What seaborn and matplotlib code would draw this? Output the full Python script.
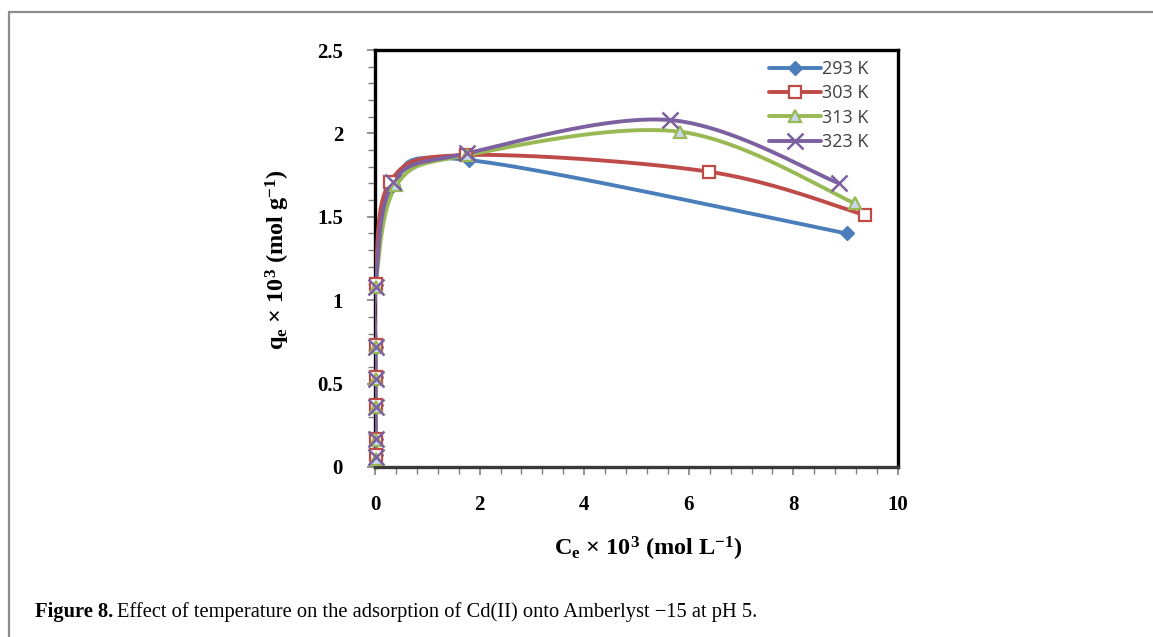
import numpy as np
import matplotlib
matplotlib.use("Agg")
import matplotlib.pyplot as plt
from matplotlib.lines import Line2D
from matplotlib.patches import Rectangle
from matplotlib.ticker import MultipleLocator
import seaborn as sns

# Equilibrium data: Ce x 10^3 (mol/L) and qe x 10^3 (mol/g) at each temperature
temps = ["293 K", "303 K", "313 K", "323 K"]
ce_293 = [0.01, 0.01, 0.01, 0.01, 0.01, 0.01, 0.35, 1.80, 9.02]
qe_293 = [0.07, 0.17, 0.37, 0.54, 0.72, 1.09, 1.69, 1.84, 1.40]
ce_303 = [0.01, 0.01, 0.01, 0.01, 0.01, 0.01, 0.29, 1.74, 6.39, 9.37]
qe_303 = [0.07, 0.17, 0.37, 0.54, 0.73, 1.10, 1.71, 1.87, 1.77, 1.51]
ce_313 = [0.01, 0.01, 0.01, 0.01, 0.01, 0.01, 0.41, 1.76, 5.83, 9.18]
qe_313 = [0.05, 0.16, 0.36, 0.53, 0.72, 1.08, 1.69, 1.87, 2.01, 1.58]
ce_323 = [0.01, 0.01, 0.01, 0.01, 0.01, 0.01, 0.35, 1.75, 5.64, 8.88]
qe_323 = [0.06, 0.17, 0.36, 0.53, 0.72, 1.08, 1.71, 1.88, 2.08, 1.70]

series = [(ce_293, qe_293), (ce_303, qe_303), (ce_313, qe_313), (ce_323, qe_323)]
colors = ["#4A7EBB", "#BE4B48", "#98B954", "#7D60A0"]
markers = ["D", "s", "^", "x"]
faces = ["#4A7EBB", "white", "#C9D8EE", "none"]
msizes = [7, 9, 9, 11]

sns.set_theme(style="white")
plt.rcParams["font.family"] = ["Liberation Serif", "DejaVu Serif"]
plt.rcParams["mathtext.fontset"] = "custom"
plt.rcParams["mathtext.rm"] = "Liberation Serif"
plt.rcParams["mathtext.bf"] = "Liberation Serif:bold"
plt.rcParams["mathtext.it"] = "Liberation Serif:italic"


def smooth(x, y, sx, sy, n=40):
    """Catmull-Rom style Bezier smoothing, computed in screen proportions."""
    p = np.column_stack([np.asarray(x) * sx, np.asarray(y) * sy])
    pts = []
    for i in range(len(p) - 1):
        p0 = p[i - 1] if i > 0 else p[i]
        p1 = p[i]
        p2 = p[i + 1]
        p3 = p[i + 2] if i + 2 < len(p) else p[i + 1]
        c1 = p1 + (p2 - p0) / 6.0
        c2 = p2 - (p3 - p1) / 6.0
        t = np.linspace(0, 1, n)[:, None]
        seg = ((1 - t) ** 3) * p1 + 3 * ((1 - t) ** 2) * t * c1 + 3 * (1 - t) * t ** 2 * c2 + t ** 3 * p2
        pts.append(seg if i == 0 else seg[1:])
    pts = np.vstack(pts)
    return pts[:, 0] / sx, pts[:, 1] / sy


fig = plt.figure(figsize=(11.53, 6.37), dpi=100)
fig.patch.set_facecolor("white")

# panel frame
fig.patches.append(Rectangle((9 / 1153, -0.05), 1.2, 1 - 12 / 637 + 0.05,
                             transform=fig.transFigure, fill=False,
                             edgecolor="#8C8C8C", linewidth=1.6, zorder=0))

ax = fig.add_axes([375 / 1153, 1 - 467 / 637, 523 / 1153, 417 / 637])
ax.set_facecolor("white")

sx, sy = 523 / 10.0, 417 / 2.5
handles = []
for (x, y), lab, c, m, fc, ms in zip(series, temps, colors, markers, faces, msizes):
    xs, ys = smooth(x, y, sx, sy)
    sns.lineplot(x=xs, y=ys, sort=False, estimator=None, color=c,
                 linewidth=2.8, ax=ax, zorder=3)
    mew = 1.6 if m in ("s", "^") else (1.8 if m == "x" else 1.0)
    ax.plot(x, y, linestyle="none", marker=m, markersize=ms,
            markerfacecolor=fc, markeredgecolor=c, markeredgewidth=mew,
            zorder=4, clip_on=False)
    handles.append(Line2D([0], [0], color=c, linewidth=2.8, marker=m,
                          markersize=ms, markerfacecolor=fc,
                          markeredgecolor=c, markeredgewidth=mew, label=lab))

ax.set_xlim(0, 10)
ax.set_ylim(0, 2.5)
ax.xaxis.set_minor_locator(MultipleLocator(0.4))
ax.yaxis.set_minor_locator(MultipleLocator(0.1))
ax.set_xticks([0, 2, 4, 6, 8, 10])
ax.set_xticklabels(["0", "2", "4", "6", "8", "10"])
ax.set_yticks([0, 0.5, 1, 1.5, 2, 2.5])
ax.set_yticklabels(["0", "0.5", "1", "1.5", "2", "2.5"])

for s in ax.spines.values():
    s.set_color("black")
    s.set_linewidth(2.4)
ax.spines["bottom"].set_color("#3A3A3A")

ax.tick_params(axis="both", which="both", direction="out", color="#808080",
               left=True, bottom=True)
ax.tick_params(axis="both", which="major", length=6, width=1.2)
ax.tick_params(axis="both", which="minor", length=5, width=1.0)
ax.tick_params(axis="y", which="major", pad=17)
ax.tick_params(axis="x", which="major", pad=14)
for lbl in ax.get_xticklabels() + ax.get_yticklabels():
    lbl.set_fontsize(15)
    lbl.set_fontweight("bold")
    lbl.set_color("black")

ax.set_xlabel(r"$\mathbf{C_e}$ × $\mathbf{10^3}$ (mol L$^{\mathbf{-1}}$)",
              fontsize=17.5, fontweight="bold", color="black", va="center")
ax.xaxis.set_label_coords((648 - 375) / 523, -(549 - 467) / 417)

ax.set_ylabel(r"$\mathbf{q_e}$ × $\mathbf{10^3}$ (mol g$^{\mathbf{-1}}$)",
              fontsize=17.5, fontweight="bold", color="black", va="center")
ax.yaxis.set_label_coords((278 - 375) / 523, (467 - 260) / 417)

leg = ax.legend(handles=handles, loc="upper right", frameon=False,
                prop={"family": "Open Sans", "size": 13},
                handlelength=2.9, handletextpad=0.05, labelspacing=0.35,
                borderaxespad=0.0, bbox_to_anchor=(0.957, 0.993))
for t in leg.get_texts():
    t.set_color("#404040")

# caption: bold lead-in followed by the description
cap_y = 1 - 612 / 637
lead = fig.text(35 / 1153, cap_y, "Figure 8.", fontsize=14.8, fontweight="bold",
                ha="left", va="center", color="black")
fig.canvas.draw()
bb = lead.get_window_extent(renderer=fig.canvas.get_renderer())
x_after = (bb.x1 + 4) / fig.bbox.width
fig.text(x_after, cap_y,
         "Effect of temperature on the adsorption of Cd(II) onto Amberlyst \u221215 at pH 5.",
         fontsize=14.8, ha="left", va="center", color="black")

fig.savefig("out.png", dpi=100, facecolor="white")
